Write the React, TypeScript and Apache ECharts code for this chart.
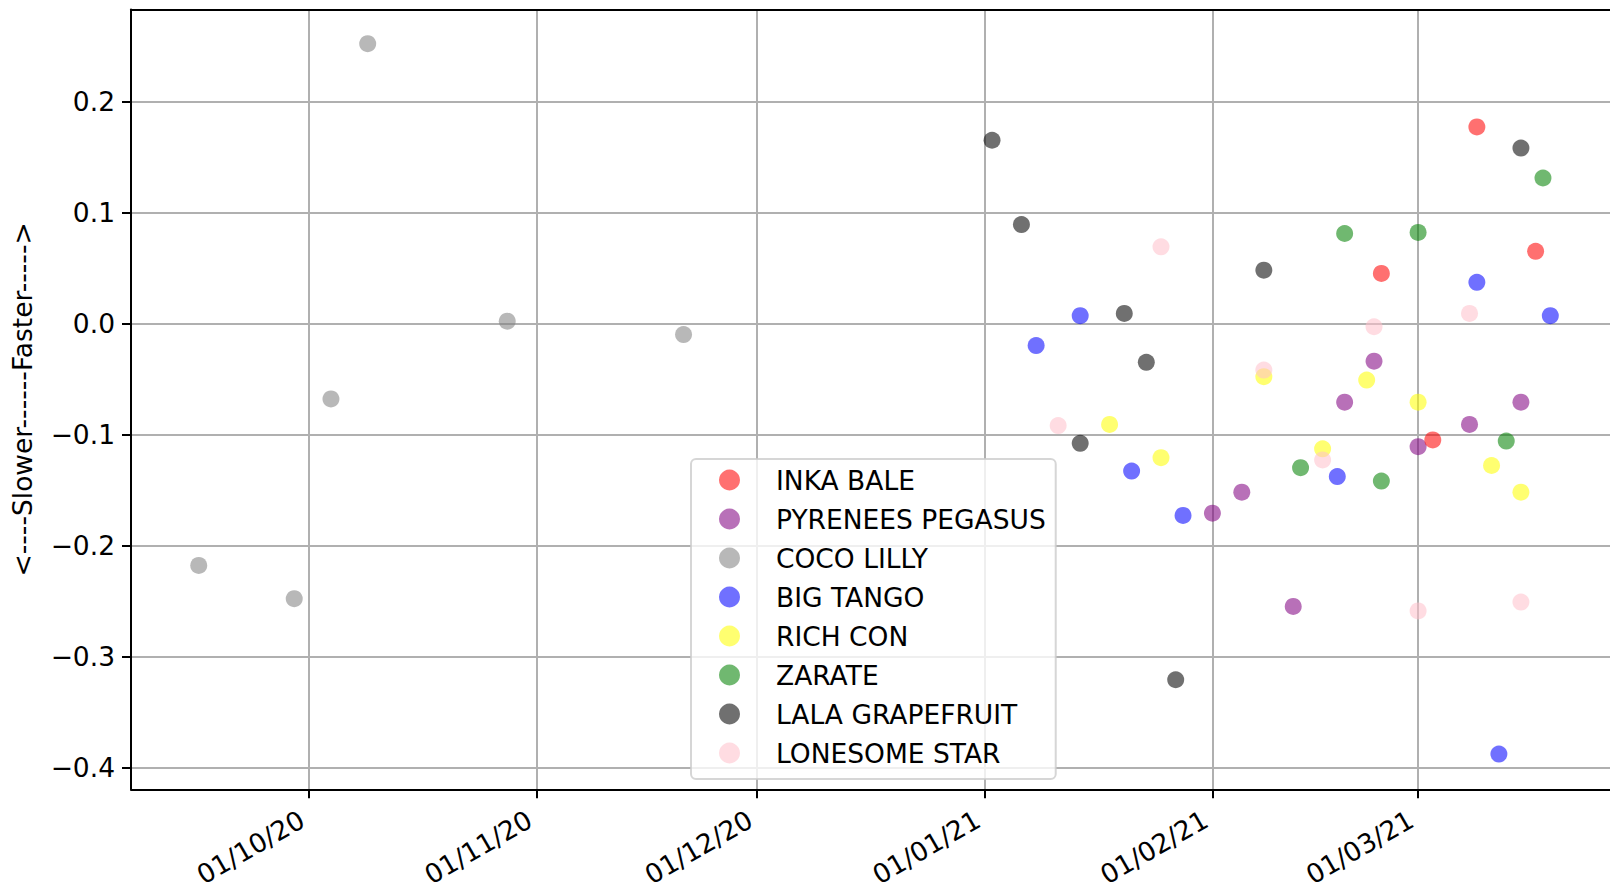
import React, { useEffect, useRef } from "react";
import * as echarts from "echarts";

const FONT = "DejaVu Sans";

const seriesNames = [
  "INKA BALE",
  "PYRENEES PEGASUS",
  "COCO LILLY",
  "BIG TANGO",
  "RICH CON",
  "ZARATE",
  "LALA GRAPEFRUIT",
  "LONESOME STAR",
];

const seriesColors = [
  "rgba(255,0,0,0.7)",
  "rgba(128,0,128,0.7)",
  "rgba(128,128,128,0.7)",
  "rgba(0,0,255,0.7)",
  "rgba(255,255,0,0.7)",
  "rgba(0,128,0,0.7)",
  "rgba(0,0,0,0.7)",
  "rgba(255,192,203,0.7)",
];

// dates (YYYY-MM-DD) and speed difference values
const inkaBaleDates = ["2021-02-24", "2021-03-03", "2021-03-09", "2021-03-17"];
const inkaBaleValues = [0.045, -0.105, 0.177, 0.065];

const pyreneesDates = ["2021-02-01", "2021-02-05", "2021-02-12", "2021-02-19", "2021-02-23", "2021-03-01", "2021-03-08", "2021-03-15"];
const pyreneesValues = [-0.171, -0.152, -0.255, -0.071, -0.034, -0.111, -0.091, -0.071];

const cocoLillyDates = ["2020-09-16", "2020-09-29", "2020-10-04", "2020-10-09", "2020-10-28", "2020-11-21"];
const cocoLillyValues = [-0.218, -0.248, -0.068, 0.252, 0.002, -0.01];

const bigTangoDates = ["2021-01-08", "2021-01-14", "2021-01-21", "2021-01-28", "2021-02-18", "2021-03-09", "2021-03-12", "2021-03-19"];
const bigTangoValues = [-0.02, 0.007, -0.133, -0.173, -0.138, 0.037, -0.388, 0.007];

const richConDates = ["2021-01-18", "2021-01-25", "2021-02-08", "2021-02-16", "2021-02-22", "2021-03-01", "2021-03-11", "2021-03-15"];
const richConValues = [-0.091, -0.121, -0.048, -0.113, -0.051, -0.071, -0.128, -0.152];

const zarateDates = ["2021-02-13", "2021-02-19", "2021-02-24", "2021-03-01", "2021-03-13", "2021-03-18"];
const zarateValues = [-0.13, 0.081, -0.142, 0.082, -0.106, 0.131];

const lalaDates = ["2021-01-02", "2021-01-06", "2021-01-14", "2021-01-20", "2021-01-23", "2021-01-27", "2021-02-08", "2021-03-15"];
const lalaValues = [0.165, 0.089, -0.108, 0.009, -0.035, -0.321, 0.048, 0.158];

const lonesomeDates = ["2021-01-11", "2021-01-25", "2021-02-08", "2021-02-16", "2021-02-23", "2021-03-01", "2021-03-08", "2021-03-15"];
const lonesomeValues = [-0.092, 0.069, -0.042, -0.123, -0.003, -0.259, 0.009, -0.251];

const allDates = [inkaBaleDates, pyreneesDates, cocoLillyDates, bigTangoDates, richConDates, zarateDates, lalaDates, lonesomeDates];
const allValues = [inkaBaleValues, pyreneesValues, cocoLillyValues, bigTangoValues, richConValues, zarateValues, lalaValues, lonesomeValues];

const xTickDates = ["2020-10-01", "2020-11-01", "2020-12-01", "2021-01-01", "2021-02-01", "2021-03-01"];
const yTicks = [-0.4, -0.3, -0.2, -0.1, 0.0, 0.1, 0.2];

const yAxisName = "<----Slower------Faster----->";

function toTime(s: string): number {
  const [y, m, d] = s.split("-").map(Number);
  return new Date(y, m - 1, d).getTime();
}

function fmtDate(v: number): string {
  const d = new Date(v);
  const dd = String(d.getDate()).padStart(2, "0");
  const mm = String(d.getMonth() + 1).padStart(2, "0");
  const yy = String(d.getFullYear() % 100).padStart(2, "0");
  return `${dd}/${mm}/${yy}`;
}

function fmtY(v: number): string {
  const r = Math.round(v * 10) / 10;
  const s = Math.abs(r).toFixed(1);
  return r < 0 ? "\u2212" + s : s;
}

export default function App() {
  const ref = useRef<HTMLDivElement>(null);

  useEffect(() => {
    if (!ref.current) return;
    const chart = echarts.init(ref.current, null, { renderer: "svg" });
    const xMin = new Date(2020, 8, 6, 18, 40).getTime();
    const xMax = new Date(2021, 2, 27, 3, 0).getTime();
    const xTicks = xTickDates.map(toTime);

    const series = seriesNames.map((name, i) => ({
      name,
      type: "scatter",
      symbol: "circle",
      symbolSize: 17,
      z: i === 0 ? 3 : 2,
      itemStyle: { color: seriesColors[i] },
      data: allDates[i].map((d, j) => [toTime(d), allValues[i][j]]),
    }));

    chart.setOption({
      animation: false,
      backgroundColor: "#ffffff",
      textStyle: { fontFamily: FONT },
      grid: { left: 131, right: 0, top: 9.5, bottom: 96.5, containLabel: false },
      xAxis: [
        {
          type: "value",
          min: xMin,
          max: xMax,
          axisLine: { show: true, onZero: false, lineStyle: { color: "#000", width: 2 } },
          axisTick: {
            show: true,
            customValues: xTicks,
            length: 9,
            lineStyle: { color: "#000", width: 2 },
          },
          axisLabel: {
            customValues: xTicks,
            rotate: 30,
            margin: 24,
            padding: [0, 8, 0, 0],
            color: "#000",
            fontSize: 26.5,
            fontFamily: FONT,
            formatter: (v: number) => fmtDate(v),
          },
          splitLine: { show: true, lineStyle: { color: "#b0b0b0", width: 2 } },
        },
        {
          type: "value",
          position: "top",
          min: xMin,
          max: xMax,
          axisLine: { show: true, onZero: false, lineStyle: { color: "#000", width: 2 } },
          axisTick: { show: false },
          axisLabel: { show: false },
          splitLine: { show: false },
        },
      ],
      yAxis: {
        type: "value",
        min: -0.4197,
        max: 0.2828,
        name: yAxisName,
        nameLocation: "middle",
        nameRotate: 90,
        nameGap: 95,
        nameTextStyle: { color: "#000", fontSize: 26.5, fontFamily: FONT },
        axisLine: { show: true, onZero: false, lineStyle: { color: "#000", width: 2 } },
        axisTick: {
          show: true,
          customValues: yTicks,
          length: 9,
          lineStyle: { color: "#000", width: 2 },
        },
        axisLabel: {
          customValues: yTicks,
          margin: 16,
          color: "#000",
          fontSize: 26.5,
          fontFamily: FONT,
          formatter: (v: number) => fmtY(v),
        },
        splitLine: { show: true, lineStyle: { color: "#b0b0b0", width: 2 } },
      },
      legend: {
        show: true,
        orient: "vertical",
        left: 691,
        top: 459,
        padding: [6, 10, 11, 28],
        itemWidth: 53,
        itemHeight: 21,
        itemGap: 9,
        icon: "circle",
        backgroundColor: "rgba(255,255,255,0.8)",
        borderColor: "rgba(204,204,204,0.8)",
        borderWidth: 2,
        borderRadius: 5,
        textStyle: {
          color: "#000",
          fontSize: 26.5,
          fontFamily: FONT,
          lineHeight: 30,
          padding: [0, 0, 0, 15],
        },
        data: seriesNames,
      },
      series,
    });

    return () => chart.dispose();
  }, []);

  return (
    <div
      ref={ref}
      style={{ position: "fixed", left: 0, top: 0, width: 1610, height: 890 }}
    />
  );
}
